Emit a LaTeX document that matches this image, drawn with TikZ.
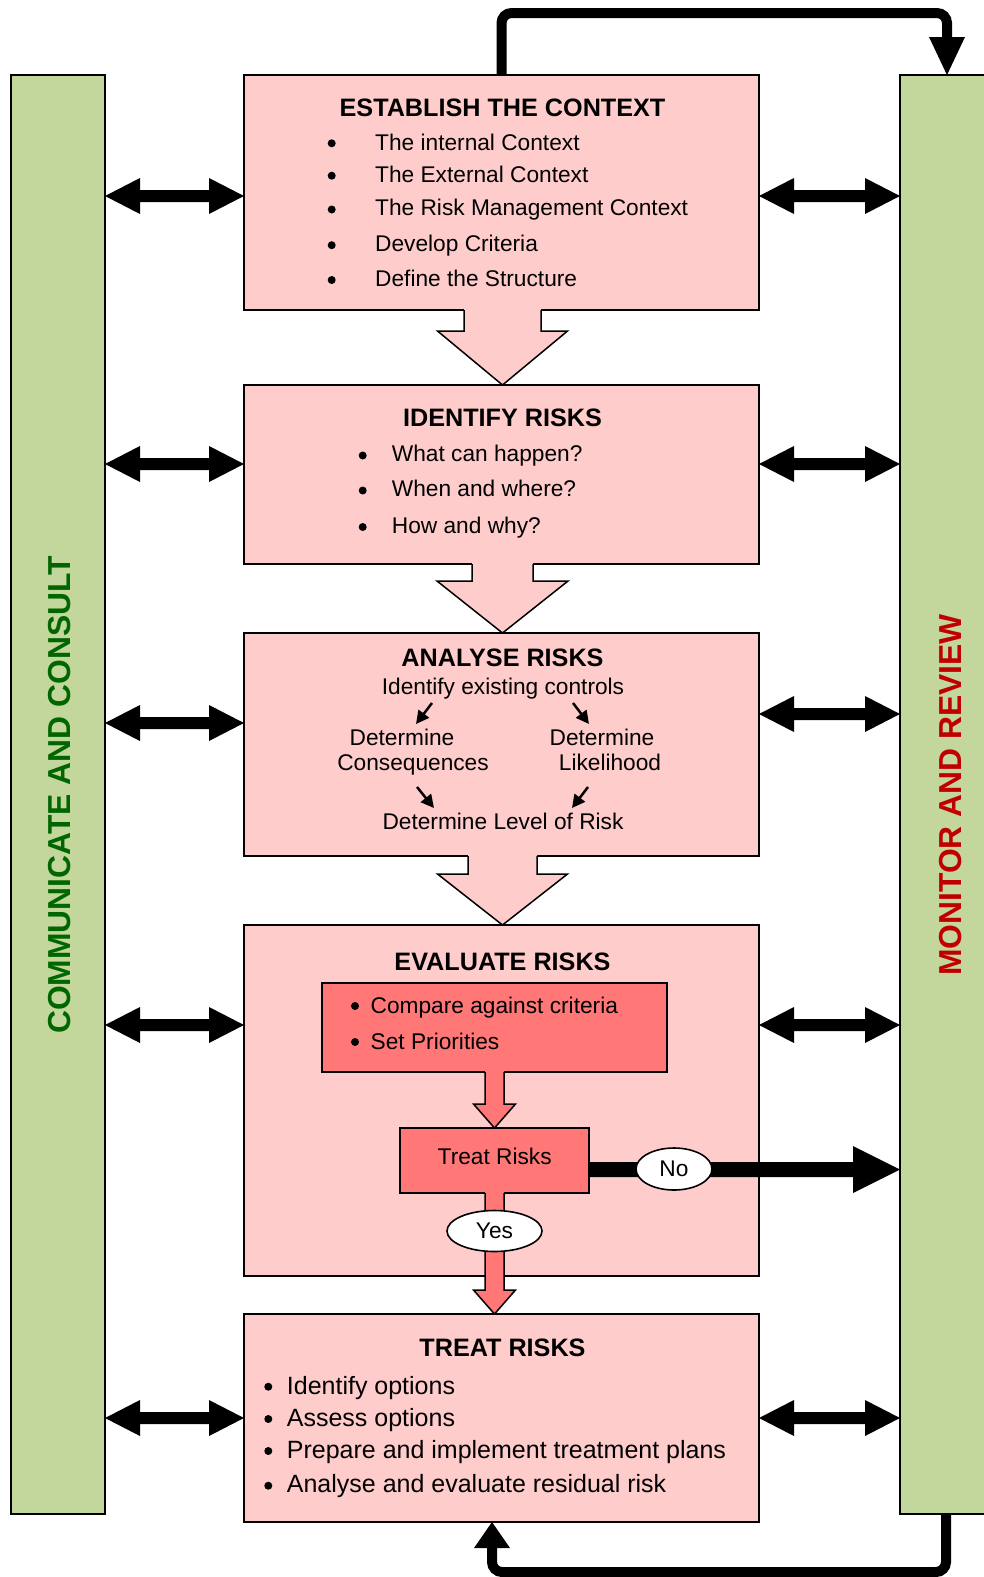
\documentclass[tikz,border=0pt]{standalone}
\usepackage{fontspec}
\setmainfont{Liberation Sans}
\usetikzlibrary{calc,shapes.geometric,arrows.meta}
\definecolor{pinkfill}{HTML}{FFCCCC}
\definecolor{greenfill}{HTML}{C3D69B}
\definecolor{redfill}{HTML}{FF7777}
\definecolor{greentext}{HTML}{006600}
\definecolor{redtext}{HTML}{C00000}

\newcommand{\dblarrow}[2]{%
  \fill let \p1=#1, \p2=#2 in
   (\x1,\y1) -- (\x1+35pt,\y1+18pt) -- (\x1+35pt,\y1+6pt) -- (\x2-35pt,\y1+6pt) -- (\x2-35pt,\y1+18pt) -- (\x2,\y1) -- (\x2-35pt,\y1-18pt) -- (\x2-35pt,\y1-6pt) -- (\x1+35pt,\y1-6pt) -- (\x1+35pt,\y1-18pt) -- cycle;}

\newcommand{\blockdown}[6]{%
  \fill[#6] let \p1=#1, \p2=#2 in (\x1-#3,\y1+1.5pt) -- (\x1-#3,\y2+#5) -- (\x1-#4,\y2+#5) -- (\x1,\y2) -- (\x1+#4,\y2+#5) -- (\x1+#3,\y2+#5) -- (\x1+#3,\y1+1.5pt) -- cycle;
  \draw[line width=1.5pt] let \p1=#1, \p2=#2 in (\x1-#3,\y1) -- (\x1-#3,\y2+#5) -- (\x1-#4,\y2+#5) -- (\x1,\y2) -- (\x1+#4,\y2+#5) -- (\x1+#3,\y2+#5) -- (\x1+#3,\y1);}

\begin{document}
\begin{tikzpicture}[x=1pt,y=-1pt,
  box/.style={draw=black, line width=1.6pt, fill=pinkfill, inner sep=0pt, outer sep=0pt, anchor=north west},
  bar/.style={draw=black, line width=1.6pt, fill=greenfill, inner sep=0pt, outer sep=0pt, anchor=north west},
  redbox/.style={draw=black, line width=1.6pt, fill=redfill, inner sep=0pt, outer sep=0pt, anchor=north west},
  ttl/.style={font=\fontsize{25.2}{30}\selectfont\bfseries, anchor=base, inner sep=0pt},
  txt/.style={font=\fontsize{22.7}{27}\selectfont, anchor=base west, inner sep=0pt},
  txtc/.style={txt, anchor=base},
  big/.style={font=\fontsize{25}{30}\selectfont, anchor=base west, inner sep=0pt},
  side/.style={font=\fontsize{31.8}{36}\selectfont\bfseries, anchor=base, inner sep=0pt, rotate=90},
  oval/.style={ellipse, draw=black, line width=1.6pt, fill=white, inner sep=0pt, font=\fontsize{22.7}{27}\selectfont},
  loopline/.style={line width=10pt, rounded corners=10pt},
  smallarr/.style={line width=2.5pt, -{Triangle[length=13pt,width=13pt]}}
]
\useasboundingbox (0,0) rectangle (984,1577);

% side bars
\node[bar, minimum width=94pt, minimum height=1439pt] (lbar) at (11,75) {};
\node[bar, minimum width=100pt, minimum height=1439pt] (rbar) at (900,75) {};

% main boxes
\node[box, minimum width=515pt, minimum height=235pt] (ctx) at (244,75) {};
\node[box, minimum width=515pt, minimum height=179pt] (idf) at (244,385) {};
\node[box, minimum width=515pt, minimum height=223pt] (ana) at (244,633) {};
\node[box, minimum width=515pt, minimum height=351pt] (eva) at (244,925) {};
\node[box, minimum width=515pt, minimum height=208pt] (trt) at (244,1314) {};

% row coordinates
\coordinate (r1) at (0,196);
\coordinate (r2) at (0,464);
\coordinate (r3) at (0,723);
\coordinate (r3b) at (0,714);
\coordinate (r4) at (0,1025);
\coordinate (r5) at (0,1418);
\coordinate (r6) at (0,1169.5);

% double arrows
\dblarrow{(lbar.east |- r1)}{(ctx.west |- r1)}
\dblarrow{(lbar.east |- r2)}{(idf.west |- r2)}
\dblarrow{(lbar.east |- r3)}{(ana.west |- r3)}
\dblarrow{(lbar.east |- r4)}{(eva.west |- r4)}
\dblarrow{(lbar.east |- r5)}{(trt.west |- r5)}
\dblarrow{(ctx.east |- r1)}{(rbar.west |- r1)}
\dblarrow{(idf.east |- r2)}{(rbar.west |- r2)}
\dblarrow{(ana.east |- r3b)}{(rbar.west |- r3b)}
\dblarrow{(eva.east |- r4)}{(rbar.west |- r4)}
\dblarrow{(trt.east |- r5)}{(rbar.west |- r5)}

% block arrows between boxes
\blockdown{([xshift=1pt]ctx.south)}{([xshift=1pt]idf.north)}{38.5pt}{65pt}{54pt}{pinkfill}
\blockdown{([xshift=1pt]idf.south)}{([xshift=1pt]ana.north)}{30.5pt}{65.5pt}{52pt}{pinkfill}
\blockdown{([xshift=1pt]ana.south)}{([xshift=1pt]eva.north)}{34.5pt}{65pt}{51pt}{pinkfill}

% loops
\coordinate (topTip) at ($(rbar.north west)+(47,0)$);
\draw[loopline] (ctx.north) -- ++(0,-62) -| ($(topTip)+(0,-37)$);
\fill ($(topTip)+(-18,-38)$) -- ($(topTip)+(18,-38)$) -- (topTip) -- cycle;
\coordinate (botTip) at ($(trt.south west)+(248,0)$);
\draw[loopline] ($(rbar.south west)+(46,0)$) -- ++(0,58) -| ($(botTip)+(0,25)$);
\fill ($(botTip)+(-18,26)$) -- ($(botTip)+(18,26)$) -- (botTip) -- cycle;

% side labels
\node[side, text=greentext] (cc) at (70,795) {COMMUNICATE AND CONSULT};
\node[side, text=redtext] (mr) at (961,795) {MONITOR AND REVIEW};

% context box text
\node[ttl] (ctxT) at (502.5,116) {ESTABLISH THE CONTEXT};
\fill (331.7,143.3) circle (4pt);
\fill (331.7,175.7) circle (4pt);
\fill (331.7,209.5) circle (4pt);
\fill (331.7,245.2) circle (4pt);
\fill (331.7,280) circle (4pt);
\node[txt] (c1) at (375,150) {The internal Context};
\node[txt] (c2) at (375,182.5) {The External Context};
\node[txt] (c3) at (375,215.5) {The Risk Management Context};
\node[txt] (c4) at (375,251.5) {Develop Criteria};
\node[txt] (c5) at (375,286.5) {Define the Structure};

% identify box text
\node[ttl] (idfT) at (502.5,426.7) {IDENTIFY RISKS};
\fill (362.7,455.5) circle (4pt);
\fill (362.7,490.5) circle (4pt);
\fill (362.7,527) circle (4pt);
\node[txt] (i1) at (391.7,461.7) {What can happen?};
\node[txt] (i2) at (391.7,496.7) {When and where?};
\node[txt] (i3) at (391.7,533.3) {How and why?};

% analyse box text
\node[ttl] (anaT) at (502.5,666) {ANALYSE RISKS};
\node[txtc] (a1) at (503,694) {Identify existing controls};
\node[txtc] (a2) at (402,745) {Determine};
\node[txtc] (a3) at (413,770.7) {Consequences};
\node[txtc] (a4) at (602,745) {Determine};
\node[txtc] (a5) at (610,770.7) {Likelihood};
\node[txtc] (a6) at (503,829.3) {Determine Level of Risk};
\coordinate (s1a) at (432,703); \coordinate (s1b) at (416,724);
\coordinate (s2a) at (573,703); \coordinate (s2b) at (589,724);
\coordinate (s3a) at (417,787); \coordinate (s3b) at (434,808);
\coordinate (s4a) at (588,787); \coordinate (s4b) at (572,808);
\draw[smallarr] (s1a) -- (s1b);
\draw[smallarr] (s2a) -- (s2b);
\draw[smallarr] (s3a) -- (s3b);
\draw[smallarr] (s4a) -- (s4b);

% evaluate box
\node[ttl] (evaT) at (502.5,970) {EVALUATE RISKS};
\node[redbox, minimum width=345pt, minimum height=89pt] (cmp) at (322,983) {};
\node[redbox, minimum width=189pt, minimum height=65pt] (trb) at (400,1128) {};
\fill (355,1006) circle (4pt);
\fill (355,1042) circle (4pt);
\node[txt] (e1) at (370.5,1013) {Compare against criteria};
\node[txt] (e2) at (370.5,1049) {Set Priorities};
\node[txtc] (e3) at (494.7,1164) {Treat Risks};
\blockdown{(cmp.south)}{(trb.north)}{9.5pt}{21pt}{24pt}{redfill}
\blockdown{(trb.south)}{(trt.north)}{9.5pt}{21pt}{24pt}{redfill}
\fill let \p1=(trb.east |- r6), \p2=(rbar.west |- r6) in (\x1,\y1+7.5pt) -- (\x2-47pt,\y1+7.5pt) -- (\x2-47pt,\y1+23.5pt) -- (\x2,\y1) -- (\x2-47pt,\y1-23.5pt) -- (\x2-47pt,\y1-7.5pt) -- (\x1,\y1-7.5pt) -- cycle;
\node[oval, minimum width=76pt, minimum height=42pt] (no) at (674,1169) {No};
\node[oval, minimum width=95pt, minimum height=41pt] (yes) at (494.5,1231) {Yes};

% treat box text
\node[ttl] (trtT) at (502.5,1356) {TREAT RISKS};
\fill (268.3,1386.7) circle (4pt);
\fill (268.3,1419) circle (4pt);
\fill (268.3,1451) circle (4pt);
\fill (268.3,1485.7) circle (4pt);
\node[big] (t1) at (286.7,1394) {Identify options};
\node[big] (t2) at (286.7,1426) {Assess options};
\node[big] (t3) at (286.7,1458.3) {Prepare and implement treatment plans};
\node[big] (t4) at (286.7,1492.7) {Analyse and evaluate residual risk};
\end{tikzpicture}
\end{document}
